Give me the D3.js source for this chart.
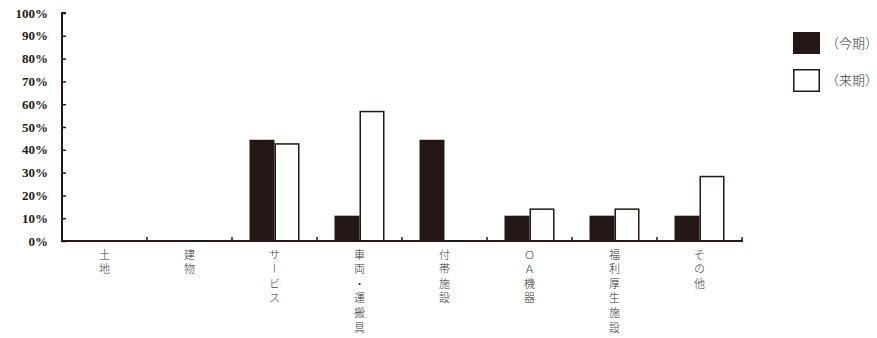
<!DOCTYPE html>
<html><head><meta charset="utf-8">
<script src="https://cdn.jsdelivr.net/npm/d3@7"></script>
<style>body{margin:0;background:#fff}</style>
</head><body>
<svg id="c" width="877" height="338"></svg>
<script>
const categories = ["土地","建物","サービス","車両・運搬具","付帯施設","ＯＡ機器","福利厚生施設","その他"];
const seriesNames = ["（今期）","（来期）"];
const current = [0, 0, 44.4, 11.1, 44.4, 11.1, 11.1, 11.1];
const next = [0, 0, 42.9, 57.1, 0, 14.3, 14.3, 28.6];
const yTicks = [0,10,20,30,40,50,60,70,80,90,100];

const ink = "#231815";
const svg = d3.select("#c");
const m = {l:62, r:742, t:13, b:241};
const x = d3.scaleBand().domain(categories).range([m.l, m.r]).paddingInner(0).paddingOuter(0);
const inner = d3.scaleBand().domain([0,1]).range([17.5, x.bandwidth()-17.5]);
const y = d3.scaleLinear().domain([0,100]).range([m.b, m.t]);

// bars
const data = categories.map((c,i)=>({c, v:[current[i], next[i]]}));
const g = svg.append("g");
data.forEach(d=>{
  d.v.forEach((v,k)=>{
    if (v<=0) return;
    g.append("rect")
      .attr("x", x(d.c)+inner(k) + (k===1?0.75:0))
      .attr("y", y(v)+(k===1?0.75:0))
      .attr("width", inner.bandwidth()-(k===1?1.5:0))
      .attr("height", m.b - y(v) - (k===1?0.75:0))
      .attr("fill", k===0?ink:"#fff")
      .attr("stroke", k===0?"none":ink)
      .attr("stroke-width", 1.5);
  });
});

// y axis
const ya = svg.append("g").attr("transform",`translate(${m.l},0)`)
  .call(d3.axisRight(y).tickValues(yTicks).tickSize(4).tickFormat(""));
ya.select(".domain").attr("d", `M4,${m.t}H0V${m.b}`).attr("stroke", ink).attr("stroke-width",2);
ya.selectAll(".tick line").attr("stroke", ink).attr("stroke-width",1.5);
svg.append("g").selectAll("text").data(yTicks).join("text")
  .attr("x", 48).attr("y", d=>y(d)).attr("dy","0.36em")
  .attr("text-anchor","end")
  .attr("font-family","'Liberation Serif','DejaVu Serif',serif")
  .attr("font-weight","bold").attr("font-size",13).attr("fill",ink)
  .text(d=>d+"%");

// x axis
svg.append("line").attr("x1",m.l-1).attr("x2",m.r+1).attr("y1",m.b).attr("y2",m.b)
  .attr("stroke",ink).attr("stroke-width",2);
const bounds = categories.map(c=>x(c)+x.bandwidth());
svg.append("g").selectAll("line").data(bounds).join("line")
  .attr("x1",d=>d).attr("x2",d=>d).attr("y1",m.b).attr("y2",m.b-4)
  .attr("stroke",ink).attr("stroke-width",1.5);

// category labels, vertical
svg.append("g").selectAll("text").data(categories).join("text")
  .attr("x", d=>x(d)+x.bandwidth()/2)
  .attr("y", 249)
  .style("writing-mode","vertical-rl")
  .style("text-orientation","upright")
  .attr("letter-spacing", 3.6)
  .attr("font-family","'Noto Sans CJK JP',sans-serif")
  .attr("font-weight",300)
  .attr("font-size",11).attr("fill","#333")
  .text(d=>d);

// legend
const leg = svg.append("g");
seriesNames.forEach((s,i)=>{
  const yy = 32 + i*37;
  leg.append("rect").attr("x", i===0?793:793.75).attr("y", i===0?yy:yy+0.75)
    .attr("width", i===0?27:25.5).attr("height", i===0?22:21.5)
    .attr("fill", i===0?ink:"#fff").attr("stroke", i===0?"none":ink).attr("stroke-width",1.5);
  leg.append("text").attr("x", 826).attr("y", yy+11).attr("dy","0.35em")
    .attr("font-family","'Noto Sans CJK JP',sans-serif").attr("font-weight",300)
    .attr("font-size",13).attr("fill","#333").text(s);
});
</script>
</body></html>
